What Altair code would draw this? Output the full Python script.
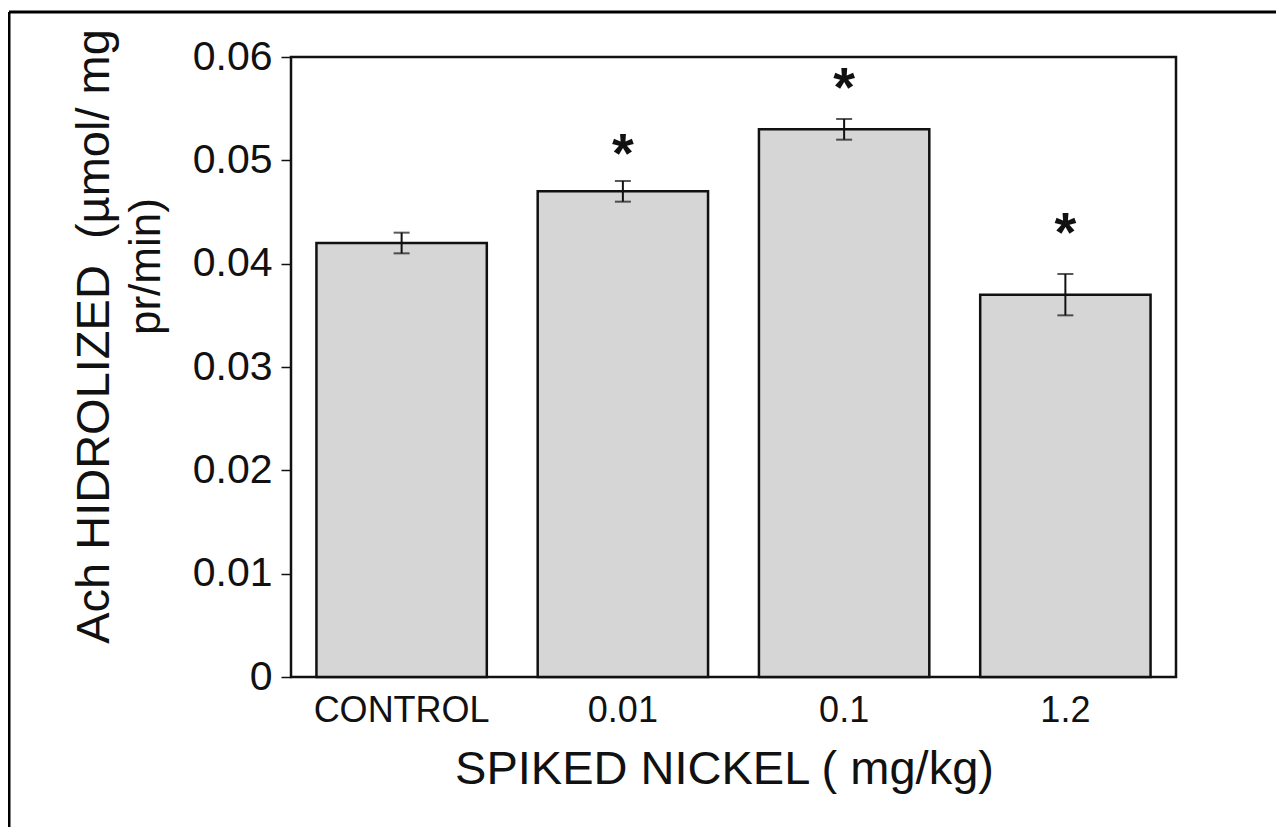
import altair as alt
import pandas as pd

categories = ["CONTROL", "0.01", "0.1", "1.2"]
means = [0.042, 0.047, 0.053, 0.037]
errors = [0.001, 0.001, 0.001, 0.002]
star_heights = [None, 0.0519, 0.0583, 0.0442]
y_ticks = [0, 0.01, 0.02, 0.03, 0.04, 0.05, 0.06]
y_title_line1 = "Ach HIDROLIZED\u00a0\u00a0(\u00b5mol/ mg"
y_title_line2 = "pr/min)"
x_title = "SPIKED NICKEL ( mg/kg)"

df = pd.DataFrame({
    "cat": categories,
    "mean": means,
    "lo": [m - e for m, e in zip(means, errors)],
    "hi": [m + e for m, e in zip(means, errors)],
})
stars = pd.DataFrame({"cat": categories, "star": star_heights}).dropna()

FONT = "Liberation Sans"
INK = "#111111"

x_enc = alt.X(
    "cat:N", sort=categories,
    scale=alt.Scale(paddingInner=0.23, paddingOuter=0.115),
    axis=alt.Axis(
        title=x_title, labelAngle=0, ticks=False, domain=False,
        labelFontSize=36, labelPadding=16, labelColor=INK, labelFont=FONT,
        labelLimit=0, labelOverlap=False,
        titleFontSize=47, titleFontWeight="normal", titleColor=INK, titleFont=FONT,
        titleX=433, titleY=106, titleAlign="center", titleBaseline="alphabetic",
    ),
)
y_scale = alt.Scale(domain=[0, 0.06], nice=False)
y_axis = alt.Axis(
    values=y_ticks, format=".2~f", grid=False, domain=False,
    tickSize=10, tickWidth=1.5, tickColor=INK,
    labelFontSize=41, labelPadding=9, labelColor=INK, labelFont=FONT,
    title=y_title_line1,
    titleFontSize=47, titleFontWeight="normal", titleColor=INK, titleFont=FONT,
    titleAngle=270, titleX=-183, titleY=279, titleAlign="center",
    titleBaseline="alphabetic",
)

base = alt.Chart(df)

bars = base.mark_bar(fill="#d6d6d6", stroke=INK, strokeWidth=2.5).encode(
    x=x_enc,
    y=alt.Y("mean:Q", scale=y_scale, axis=y_axis),
)
err_rule = base.mark_rule(color=INK, strokeWidth=2).encode(
    x=alt.X("cat:N", sort=categories),
    y="lo:Q", y2="hi:Q",
)
cap_top = base.mark_tick(color=INK, size=16, thickness=2).encode(
    x=alt.X("cat:N", sort=categories), y="hi:Q",
)
cap_bot = base.mark_tick(color=INK, size=16, thickness=2).encode(
    x=alt.X("cat:N", sort=categories), y="lo:Q",
)
star_text = alt.Chart(stars).mark_text(
    text="*", fontSize=56, fontWeight="bold", font=FONT, color=INK,
    baseline="alphabetic", dy=31,
).encode(
    x=alt.X("cat:N", sort=categories), y="star:Q",
)

one_row = alt.Data(values=[{"k": 1}])
title_line2 = alt.Chart(one_row).mark_text(
    text=y_title_line2, angle=270, align="left", baseline="alphabetic",
    fontSize=44, font=FONT, color=INK,
).encode(x=alt.value(-131), y=alt.value(278))

frame_left = alt.Chart(one_row).mark_rule(color="#000", strokeWidth=3).encode(
    x=alt.value(-282), y=alt.value(-45), y2=alt.value(770),
)
frame_top = alt.Chart(one_row).mark_rule(color="#000", strokeWidth=3).encode(
    x=alt.value(-282), x2=alt.value(985), y=alt.value(-45),
)

chart = alt.layer(
    bars, err_rule, cap_top, cap_bot, star_text, title_line2, frame_left, frame_top
).properties(
    width=885, height=620,
    padding={"left": 283, "top": 49, "right": 100, "bottom": 150},
    autosize=alt.AutoSizeParams(type="none"),
    background="white",
).configure_view(
    stroke=INK, strokeWidth=2.5,
)

chart.save("out.html", embed_options={"renderer": "svg", "actions": False})
